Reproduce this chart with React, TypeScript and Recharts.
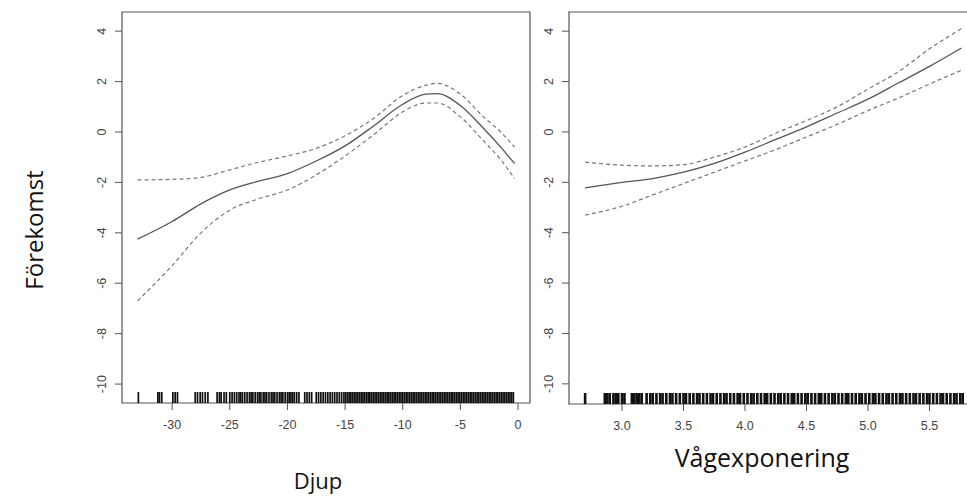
import React from "react";
import { ComposedChart, Line, Scatter, XAxis, YAxis, ReferenceArea } from "recharts";

// shared y ticks (R default axis, labels rotated)
const yTicks = [-10, -8, -6, -4, -2, 0, 2, 4];

// Djup panel
const djupTicks = [-30, -25, -20, -15, -10, -5, 0];
const djupX = [-33, -30, -27.5, -25, -22.5, -20, -17.5, -15, -12.5, -10, -8, -7, -5, -3, -1.5, -0.3];
const djupFit = [-4.25, -3.55, -2.85, -2.3, -1.95, -1.65, -1.15, -0.55, 0.25, 1.1, 1.5, 1.52, 1.05, 0.15, -0.6, -1.25];
const djupUpper = [-1.9, -1.88, -1.8, -1.5, -1.2, -0.95, -0.65, -0.15, 0.55, 1.45, 1.85, 1.93, 1.5, 0.6, 0, -0.6];
const djupLower = [-6.7, -5.3, -4.0, -3.1, -2.65, -2.3, -1.7, -0.95, -0.1, 0.8, 1.15, 1.15, 0.6, -0.35, -1.1, -1.85];
const djupRug = [
  -32.93, -31.24, -31.1, -30.9, -29.94, -29.74, -29.54, -28.0, -27.8, -27.57, -27.37, -27.13, -26.9,
  -26.1, -25.9, -25.75, -25.5, -25.3, -25.0, -24.8, -24.6, -24.4, -24.2, -24.05, -23.9, -23.7, -23.5,
  -23.3, -23.15, -23.0, -22.8, -22.6, -22.45, -22.3, -22.1, -21.95, -21.8, -21.6, -21.4, -21.25, -21.1,
  -20.9, -20.7, -20.55, -20.4, -20.2, -20.0, -19.85, -19.7, -19.55, -19.4, -19.2, -19.0, -18.5, -18.3,
  -18.1, -17.9, -17.5, -17.3, -17.1, -16.9, -16.7, -16.5, -16.3, -16.1, -15.9, -15.7, -15.5, -15.3,
  -15.1, -14.95, -14.8, -14.65, -14.5, -14.35, -14.2, -14.05, -13.9, -13.75, -13.6, -13.45, -13.3,
  -13.15, -13.0, -12.85, -12.7, -12.55, -12.4, -12.25, -12.1, -11.95, -11.8, -11.65, -11.5, -11.35,
  -11.2, -11.05, -10.9, -10.75, -10.6, -10.45, -10.3, -10.15, -10.0, -9.85, -9.7, -9.55, -9.4, -9.25,
  -9.1, -8.95, -8.8, -8.65, -8.5, -8.35, -8.2, -8.05, -7.9, -7.75, -7.6, -7.45, -7.3, -7.15, -7.0,
  -6.85, -6.7, -6.55, -6.4, -6.25, -6.1, -5.95, -5.8, -5.65, -5.5, -5.35, -5.2, -5.05, -4.9, -4.75,
  -4.6, -4.45, -4.3, -4.15, -4.0, -3.85, -3.7, -3.55, -3.4, -3.25, -3.1, -2.95, -2.8, -2.65, -2.5,
  -2.35, -2.2, -2.05, -1.9, -1.75, -1.6, -1.45, -1.3, -1.15, -1.0, -0.85, -0.7, -0.55, -0.4,
];

// Vågexponering panel
const vagTicks = [3.0, 3.5, 4.0, 4.5, 5.0, 5.5];
const vagX = [2.7, 3.0, 3.25, 3.5, 3.75, 4.0, 4.25, 4.5, 4.75, 5.0, 5.25, 5.5, 5.76];
const vagFit = [-2.22, -2.0, -1.85, -1.6, -1.25, -0.8, -0.3, 0.2, 0.75, 1.3, 1.95, 2.6, 3.33];
const vagUpper = [-1.2, -1.32, -1.35, -1.3, -1.0, -0.6, -0.05, 0.45, 1.0, 1.7, 2.4, 3.3, 4.1];
const vagLower = [-3.3, -2.95, -2.5, -2.05, -1.6, -1.15, -0.7, -0.2, 0.3, 0.85, 1.35, 1.9, 2.45];
const vagRug = [
  2.7, 2.86, 2.88, 2.9, 2.93, 2.95, 2.97, 3.0, 3.02, 3.08, 3.1, 3.12, 3.14, 3.16, 3.2, 3.23, 3.25,
  3.28, 3.31, 3.33, 3.36, 3.39, 3.41, 3.44, 3.47, 3.5, 3.52, 3.55, 3.58, 3.61, 3.63, 3.66, 3.69, 3.72,
  3.74, 3.77, 3.8, 3.83, 3.85, 3.88, 3.91, 3.94, 3.96, 3.99, 4.02, 4.05, 4.07, 4.1, 4.13, 4.16, 4.18,
  4.21, 4.24, 4.27, 4.29, 4.32, 4.35, 4.38, 4.4, 4.43, 4.46, 4.49, 4.51, 4.54, 4.57, 4.6, 4.62, 4.65,
  4.68, 4.71, 4.73, 4.76, 4.79, 4.82, 4.84, 4.87, 4.9, 4.93, 4.95, 4.98, 5.01, 5.04, 5.06, 5.09, 5.12,
  5.15, 5.17, 5.2, 5.23, 5.26, 5.28, 5.31, 5.34, 5.37, 5.39, 5.42, 5.45, 5.48, 5.5, 5.53, 5.56, 5.59,
  5.61, 5.64, 5.67, 5.7, 5.72, 5.75, 5.77,
];

const tickFont = "'Liberation Sans', Arial, sans-serif";
const labelFont = "'Open Sans', sans-serif";

const YTick = (props: any) => {
  const { x, y, payload } = props;
  const bx = x - 7;
  return (
    <text
      x={bx}
      y={y}
      transform={`rotate(-90, ${bx}, ${y})`}
      textAnchor="middle"
      fontSize={12.5}
      fill="#444"
      fontFamily={tickFont}
    >
      {payload.value}
    </text>
  );
};

interface PanelProps {
  xs: number[];
  fit: number[];
  upper: number[];
  lower: number[];
  rug: number[];
  rugWidth: number;
  ticks: number[];
  xDomain: [number, number];
  yDomain: [number, number];
  fmt: (v: number) => string;
  width: number;
  height: number;
  margin: { top: number; right: number; bottom: number; left: number };
  yWidth: number;
}

function GamPanel(p: PanelProps) {
  const data = p.xs.map((x, i) => ({ x, fit: p.fit[i], upper: p.upper[i], lower: p.lower[i] }));
  const rugData = p.rug.map((x) => ({ x, y: p.yDomain[0] }));
  const RugMark = (props: any) => (
    <line x1={props.cx} x2={props.cx} y1={props.cy} y2={props.cy - 11} stroke="#111" strokeWidth={p.rugWidth} />
  );
  return (
    <ComposedChart width={p.width} height={p.height} data={data} margin={p.margin}>
      <XAxis
        dataKey="x"
        type="number"
        domain={p.xDomain}
        allowDataOverflow
        ticks={p.ticks}
        tickFormatter={p.fmt}
        axisLine={false}
        tickLine={{ stroke: "#555" }}
        tickSize={7}
        tickMargin={10}
        height={30}
        tick={{ fontSize: 12.5, fill: "#444", fontFamily: tickFont }}
        interval={0}
      />
      <YAxis
        type="number"
        domain={p.yDomain}
        allowDataOverflow
        ticks={yTicks}
        axisLine={false}
        tickLine={{ stroke: "#555" }}
        tickSize={7}
        tickMargin={2}
        width={p.yWidth}
        tick={<YTick />}
        interval={0}
      />
      <ReferenceArea
        x1={p.xDomain[0]}
        x2={p.xDomain[1]}
        y1={p.yDomain[0]}
        y2={p.yDomain[1]}
        fill="none"
        stroke="#555"
        strokeWidth={1.2}
        fillOpacity={0}
        ifOverflow="visible"
      />
      <Scatter data={rugData} dataKey="y" shape={<RugMark />} isAnimationActive={false} />
      <Line type="monotone" dataKey="upper" stroke="#777" strokeWidth={1.2} strokeDasharray="4 3" dot={false} isAnimationActive={false} />
      <Line type="monotone" dataKey="lower" stroke="#777" strokeWidth={1.2} strokeDasharray="4 3" dot={false} isAnimationActive={false} />
      <Line type="monotone" dataKey="fit" stroke="#555" strokeWidth={1.3} dot={false} isAnimationActive={false} />
    </ComposedChart>
  );
}

export default function App() {
  return (
    <div
      style={{
        position: "absolute",
        left: 0,
        top: 0,
        width: 967,
        height: 499,
        overflow: "hidden",
        background: "#fff",
      }}
    >
      <div style={{ position: "absolute", left: 0, top: 0 }}>
        <GamPanel
          xs={djupX}
          fit={djupFit}
          upper={djupUpper}
          lower={djupLower}
          rug={djupRug}
          rugWidth={1.7}
          ticks={djupTicks}
          xDomain={[-34.35, 1.04]}
          yDomain={[-10.75, 4.76]}
          fmt={(v) => String(v)}
          width={540}
          height={440}
          margin={{ top: 12, right: 10, bottom: 7, left: 92 }}
          yWidth={30}
        />
      </div>
      <div style={{ position: "absolute", left: 540, top: 0 }}>
        <GamPanel
          xs={vagX}
          fit={vagFit}
          upper={vagUpper}
          lower={vagLower}
          rug={vagRug}
          rugWidth={2.6}
          ticks={vagTicks}
          xDomain={[2.569, 5.813]}
          yDomain={[-10.8, 4.76]}
          fmt={(v) => v.toFixed(1)}
          width={430}
          height={441}
          margin={{ top: 12, right: 2, bottom: 7, left: 0 }}
          yWidth={29}
        />
      </div>
      <div
        style={{
          position: "absolute",
          left: 33,
          top: 230,
          transform: "translate(-50%, -50%) rotate(-90deg)",
          fontFamily: labelFont,
          fontSize: 24,
          whiteSpace: "nowrap",
          color: "#111",
        }}
      >
        Förekomst
      </div>
      <div
        style={{
          position: "absolute",
          left: 318,
          top: 480,
          transform: "translate(-50%, -50%)",
          fontFamily: labelFont,
          fontSize: 22,
          whiteSpace: "nowrap",
          color: "#111",
        }}
      >
        Djup
      </div>
      <div
        style={{
          position: "absolute",
          left: 762,
          top: 457,
          transform: "translate(-50%, -50%)",
          fontFamily: labelFont,
          fontSize: 25,
          whiteSpace: "nowrap",
          color: "#111",
        }}
      >
        Vågexponering
      </div>
    </div>
  );
}
